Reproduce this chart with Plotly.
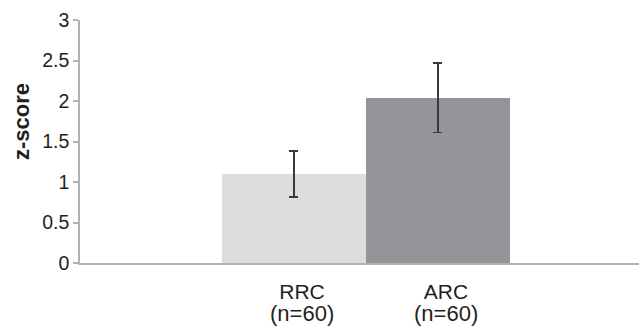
import plotly.graph_objects as go

categories = ["RRC", "ARC"]
n_labels = ["(n=60)", "(n=60)"]
values = [1.10, 2.04]
errors = [0.285, 0.43]
y_ticks = [0, 0.5, 1, 1.5, 2, 2.5, 3]
y_tick_text = ["0", "0.5", "1", "1.5", "2", "2.5", "3"]
bar_colors = ["#dcdddf", "#939598"]

xpos = [1, 2]

fig = go.Figure()
fig.add_trace(go.Bar(
    x=xpos, y=values, width=1,
    marker=dict(color=bar_colors, line=dict(width=0)),
    error_y=dict(type="data", array=errors, visible=True, color="#3a3a3a", thickness=1.6, width=4.5),
    showlegend=False, hoverinfo="skip",
))

font_family = "Liberation Sans, Arial, sans-serif"
text_color = "#231f20"
axis_color = "#b1b2b4"

for xp, lab in zip(xpos, n_labels):
    fig.add_annotation(x=xp, xref="x", y=0, yref="paper", yshift=-36, yanchor="top",
                       text=lab, showarrow=False, xshift=8,
                       font=dict(family=font_family, size=22, color=text_color))

fig.add_annotation(x=0, xref="paper", xshift=-58.5, xanchor="center",
                   y=0.582, yref="paper", yanchor="middle",
                   text="<b>z-score</b>", textangle=-90, showarrow=False,
                   font=dict(family=font_family, size=22, color=text_color))

fig.update_layout(
    width=639, height=326,
    margin=dict(l=80, r=0, t=20, b=63),
    paper_bgcolor="white", plot_bgcolor="white",
    bargap=0,
    xaxis=dict(range=[-0.486, 3.396], tickvals=xpos, ticktext=categories,
               showline=True, linecolor=axis_color, linewidth=2,
               showgrid=False, zeroline=False, ticks="",
               ticklabelshift=8, ticklabelstandoff=9,
               tickfont=dict(family=font_family, size=21, color=text_color)),
    yaxis=dict(range=[0, 3], tickvals=y_ticks, ticktext=y_tick_text,
               showline=True, linecolor=axis_color, linewidth=1.5,
               ticks="outside", ticklen=5, tickwidth=1.5, tickcolor=axis_color,
               showgrid=False, zeroline=False,
               tickfont=dict(family=font_family, size=19.5, color=text_color)),
)

fig.write_html("out.html", config={"displayModeBar": False},
               post_script="document.body.style.margin='0';document.body.style.padding='0';")
